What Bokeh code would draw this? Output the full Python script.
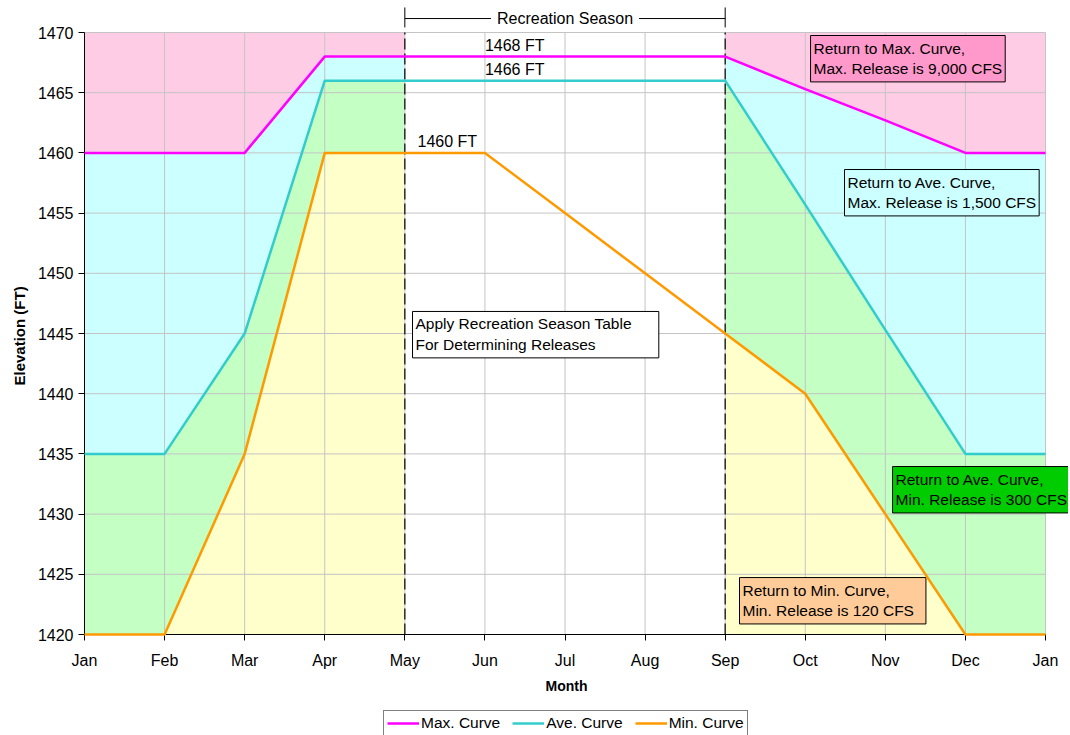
from bokeh.plotting import figure
from bokeh.layouts import column
from bokeh.models import Range1d, FixedTicker, Label, Legend, LegendItem, Title
from bokeh.embed import file_html
from bokeh.resources import INLINE

# ---- data ----
months = ["Jan", "Feb", "Mar", "Apr", "May", "Jun", "Jul", "Aug", "Sep", "Oct", "Nov", "Dec", "Jan"]
month_pos = [0, 1, 2, 3, 4, 5, 6, 7, 8, 9, 10, 11, 12]
max_curve = [1460, 1460, 1460, 1468, 1468, 1468, 1468, 1468, 1468, 1465.3, 1462.7, 1460, 1460]
ave_curve = [1435, 1435, 1445, 1466, 1466, 1466, 1466, 1466, 1466, 1455.7, 1445.3, 1435, 1435]
min_curve = [1420, 1420, 1435, 1460, 1460, 1460, 1455, 1450, 1445, 1440, 1430, 1420, 1420]
y_ticks = [1420, 1425, 1430, 1435, 1440, 1445, 1450, 1455, 1460, 1465, 1470]
season_start, season_end = 4, 8   # May .. Sep

FONT = "Liberation Sans"
TICK_FS = "16px"
BOX_FS = "15.5px"

y_lo, y_hi = y_ticks[0], y_ticks[-1]
x_lo, x_hi = month_pos[0], month_pos[-1]

p = figure(frame_width=984, frame_height=634, output_backend="svg", toolbar_location=None,
           title=None,
           x_range=Range1d(x_lo, x_hi + 0.287), y_range=Range1d(y_lo, y_hi + 2.658),
           min_border_left=84, min_border_right=0, min_border_top=0, min_border_bottom=40)
p.background_fill_color = "white"
p.outline_line_color = None
p.grid.visible = False

# ---- fills outside recreation season ----
pink, cyan, green, yellow = "#FFCCE6", "#CCFFFF", "#C4FFC4", "#FFFFCC"
for sl in (slice(0, season_start + 1), slice(season_end, len(month_pos))):
    xs = month_pos[sl]
    mx, av, mn = max_curve[sl], ave_curve[sl], min_curve[sl]
    top = [y_hi] * len(xs)
    bot = [y_lo] * len(xs)
    p.varea(x=xs, y1=mx, y2=top, fill_color=pink, level="underlay")
    p.varea(x=xs, y1=av, y2=mx, fill_color=cyan, level="underlay")
    p.varea(x=xs, y1=mn, y2=av, fill_color=green, level="underlay")
    p.varea(x=xs, y1=bot, y2=mn, fill_color=yellow, level="underlay")

# ---- grid lines (also act as the top / right plot border) ----
GRID = "#C4C4C4"
p.segment(x0=month_pos, y0=[y_lo] * len(month_pos), x1=month_pos, y1=[y_hi] * len(month_pos),
          line_color=GRID, line_width=1)
p.segment(x0=[x_lo] * len(y_ticks), y0=y_ticks, x1=[x_hi] * len(y_ticks), y1=y_ticks,
          line_color=GRID, line_width=1)

# ---- season dashed lines ----
p.segment(x0=[season_start, season_end], y0=[y_lo] * 2, x1=[season_start, season_end],
          y1=[y_hi] * 2, line_color="black", line_width=1.2, line_dash="11 4")

# ---- curves (drawn above the axes) ----
r_max = p.line(month_pos, max_curve, line_color="#FF00FF", line_width=2.5, level="overlay")
r_ave = p.line(month_pos, ave_curve, line_color="#33CCCC", line_width=2.5, level="overlay")
r_min = p.line(month_pos, min_curve, line_color="#FF9900", line_width=2.5, level="overlay")

# ---- recreation season bracket (above the 1470 line) ----
br_y = y_hi + 1.16
tee_lo, tee_hi = y_hi + 0.42, y_hi + 2.08
p.segment(x0=[season_start], y0=[br_y], x1=[season_end], y1=[br_y], line_color="black", line_width=1)
p.segment(x0=[season_start, season_end], y0=[tee_lo] * 2, x1=[season_start, season_end],
          y1=[tee_hi] * 2, line_color="black", line_width=1)
p.add_layout(Label(x=(season_start + season_end) / 2, y=br_y, text="Recreation Season",
                   text_align="center", text_baseline="middle", text_font=FONT, text_color="black",
                   text_font_size=TICK_FS, background_fill_color="white",
                   padding=dict(left=6, right=6, top=2, bottom=2)))

# ---- axes ----
p.xaxis.ticker = FixedTicker(ticks=month_pos)
p.xaxis.major_label_overrides = {i: m for i, m in zip(month_pos, months)}
p.yaxis.ticker = FixedTicker(ticks=y_ticks)
p.xaxis.bounds = (x_lo, x_hi)
p.yaxis.bounds = (y_lo, y_hi)
for ax in (p.xaxis[0], p.yaxis[0]):
    ax.axis_line_color = "black"
    ax.major_tick_line_color = "black"
    ax.minor_tick_line_color = None
    ax.major_tick_out = 6
    ax.major_tick_in = 0
    ax.major_label_text_font = FONT
    ax.major_label_text_font_size = TICK_FS
    ax.major_label_text_color = "black"
p.xaxis.major_label_standoff = 11
p.yaxis.major_label_standoff = 5
p.add_layout(Title(text="Elevation (FT)", align="left", offset=249, text_font=FONT,
                   text_font_size="15px", text_font_style="bold", text_color="black",
                   standoff=13), "left")

# ---- value labels ----
for x, y, t in [(5, 1468, "1468 FT"), (5, 1466, "1466 FT"), (4.158, 1460, "1460 FT")]:
    p.add_layout(Label(x=x, y=y, y_offset=3, text=t, text_align="left", text_baseline="bottom",
                       text_font=FONT, text_font_size=TICK_FS, text_color="black"))

# ---- boxed notes ----
notes = [
    (4.096, 1446.83, "Apply Recreation Season Table\nFor Determining Releases", "white", 27),
    (9.066, 1469.75, "Return to Max. Curve,\nMax. Release is 9,000 CFS", "#FF99CC", 3),
    (9.490, 1458.62, "Return to Ave. Curve,\nMax. Release is 1,500 CFS", "#CCFFFF", 3),
    (10.09, 1433.95, "Return to Ave. Curve,\nMin. Release is 300 CFS", "#00CC00", 12),
    (8.179, 1424.73, "Return to Min. Curve,\nMin. Release is 120 CFS", "#FFCC99", 12),
]
for x, y, t, c, rp in notes:
    p.add_layout(Label(x=x, y=y, text=t, text_align="left", text_baseline="top",
                       text_font=FONT, text_font_size=BOX_FS, text_line_height=1.2,
                       text_color="black",
                       background_fill_color=c, border_line_color="black", border_line_width=1,
                       padding=dict(left=3, right=rp, top=4, bottom=5)))

# ---- bottom strip: axis title + legend (frame aligned with the main plot frame) ----
q = figure(width=1068, height=61, output_backend="svg", toolbar_location=None, title=None,
           x_range=Range1d(0, 984), y_range=Range1d(0, 61),
           x_axis_location=None, y_axis_location=None,
           min_border_left=84, min_border_right=0, min_border_top=0, min_border_bottom=0)
q.outline_line_color = None
q.grid.visible = False
q.add_layout(Label(x=482, y=50, text="Month", text_align="center", text_baseline="middle",
                   text_font=FONT, text_font_size="14px", text_font_style="bold", text_color="black"))
l_max = q.line(month_pos, max_curve, line_color="#FF00FF", line_width=2.5)
l_ave = q.line(month_pos, ave_curve, line_color="#33CCCC", line_width=2.5)
l_min = q.line(month_pos, min_curve, line_color="#FF9900", line_width=2.5)
legend = Legend(items=[LegendItem(label="Max. Curve", renderers=[l_max]),
                       LegendItem(label="Ave. Curve", renderers=[l_ave]),
                       LegendItem(label="Min. Curve", renderers=[l_min])],
                orientation="horizontal", location=(299, -1),
                label_text_font=FONT, label_text_font_size=BOX_FS, label_text_color="black",
                border_line_color="black", border_line_width=1,
                glyph_width=32, glyph_height=18, label_height=18, label_standoff=2, spacing=12,
                padding=3, margin=0)
q.add_layout(legend, "center")

open("out.html", "w").write(file_html(column(p, q), INLINE))
